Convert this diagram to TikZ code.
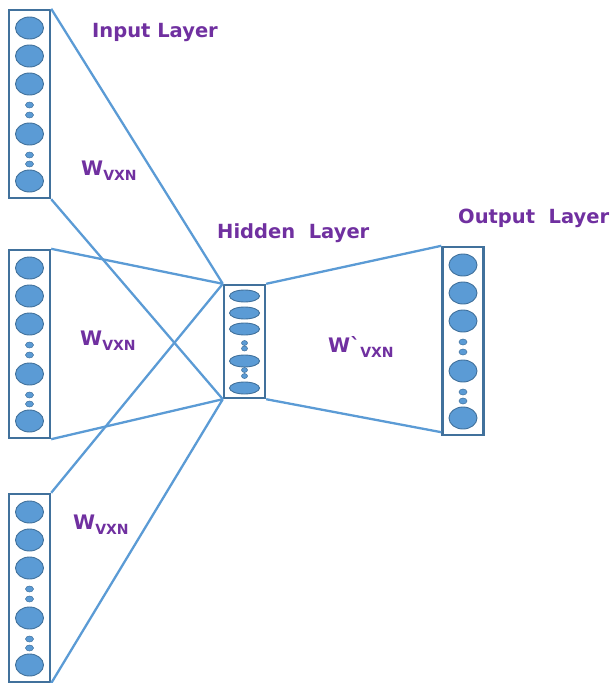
\documentclass[tikz,border=0pt]{standalone}
\usepackage{fontspec}
\setmainfont{DejaVu Sans}
\usepackage{tikz}
\usetikzlibrary{shapes.geometric}
\definecolor{wireblue}{RGB}{91,155,213}
\definecolor{edgeblue}{RGB}{65,113,156}
\definecolor{labelpurple}{RGB}{112,48,160}
\tikzstyle{layerS}=[draw=edgeblue,line width=2.4pt,inner sep=0pt]
\tikzstyle{wireS}=[draw=wireblue,line width=2.3pt]
\tikzstyle{textS}=[text=labelpurple,font=\fontsize{19.5}{22}\selectfont\bfseries,inner sep=0pt,anchor=base west]
\newcommand{\wlabel}[1]{#1\raisebox{-5.5pt}{\fontsize{14}{14}\selectfont VXN}}

\begin{document}
\begin{tikzpicture}[x=1pt,y=-1pt]
  \tikzstyle unitS=[ellipse,draw=edgeblue,fill=wireblue,line width=0.9pt,inner sep=0pt,minimum width=28pt,minimum height=22pt];
  \tikzstyle dotS=[ellipse,draw=edgeblue,fill=wireblue,line width=0.5pt,inner sep=0pt,minimum width=8pt,minimum height=6pt];
  \useasboundingbox (0,0) rectangle (613,683);
  % the four tall layers
  \foreach \lay/\top/\cx in {in1/10/29.5, in2/250/29.5, in3/494/29.5, out/247/463}
  {
    \node[layerS,minimum width=41pt,minimum height=188pt] (\lay) at ({\cx},{\top+94}) {};
    \foreach \i/\dy in {1/18, 2/46, 3/74, 4/124, 5/171}
      \node[unitS] (\lay-u\i) at ({\cx},{\top+\dy}) {};
    \foreach \i/\dy in {1/95, 2/105, 3/145, 4/154}
      \node[dotS] (\lay-d\i) at ({\cx},{\top+\dy}) {};
  }
  % hidden layer
  \node[layerS,minimum width=41pt,minimum height=113pt] (hid) at (244.5,341.5) {};
  \foreach \i/\y in {1/296, 2/313, 3/329, 4/361, 5/388}
    \node[unitS,minimum width=30pt,minimum height=12pt] (hid-u\i) at (244.5,\y) {};
  \foreach \i/\y in {1/343, 2/348.5, 3/370, 4/376}
    \node[dotS,minimum width=6pt,minimum height=5pt] (hid-d\i) at (244.5,\y) {};
  % connections
  \foreach \src in {in1,in2,in3}
  {
    \draw[wireS] (\src.north east) -- (hid.north west);
    \draw[wireS] (\src.south east) -- (hid.south west);
  }
  \draw[wireS] (hid.north east) -- (out.north west);
  \draw[wireS] (hid.south east) -- ([yshift=4pt]out.south west);
  % labels
  \node[textS] (inT) at (92,37) {Input Layer};
  \node[textS] (hidT) at (217,238) {Hidden\ \ Layer};
  \node[textS] (outT) at (458,223) {Output\ \ Layer};
  \node[textS,font=\fontsize{20}{22}\selectfont\bfseries] (w1) at (81,175) {\wlabel{W}};
  \node[textS,font=\fontsize{20}{22}\selectfont\bfseries] (w2) at (80,345) {\wlabel{W}};
  \node[textS,font=\fontsize{20}{22}\selectfont\bfseries] (w3) at (73,529) {\wlabel{W}};
  \node[textS,font=\fontsize{20}{22}\selectfont\bfseries] (w4) at (328,352) {\wlabel{W{\addfontfeatures{Ligatures=TeXOff}\char"60}}};
\end{tikzpicture}
\end{document}
